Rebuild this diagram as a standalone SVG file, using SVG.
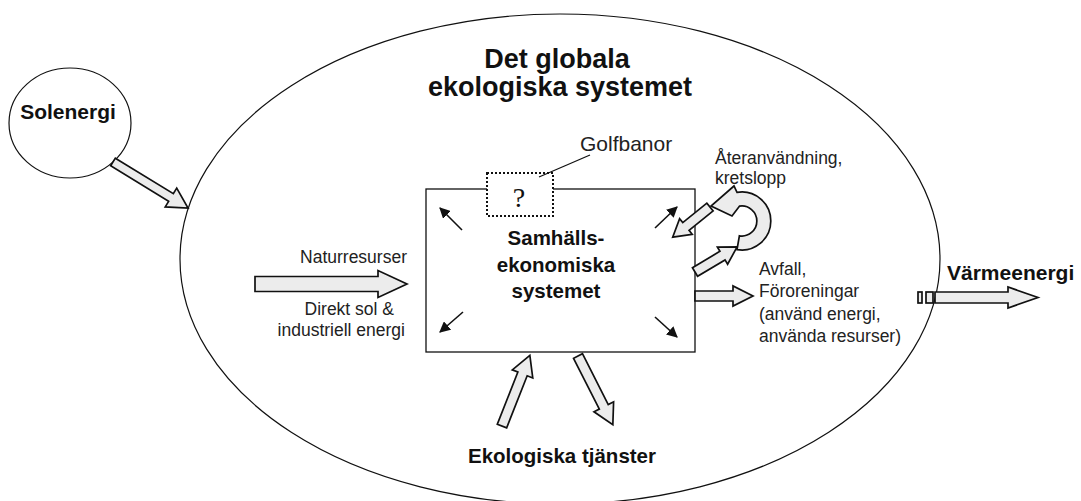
<svg xmlns="http://www.w3.org/2000/svg" width="1081" height="501" viewBox="0 0 1081 501">
<style>
.ol{fill:none;stroke:#111;stroke-width:1.2}
.blk{fill:#ececec;stroke:#111;stroke-width:1.7;stroke-linejoin:miter}
.b{font-family:"Liberation Sans",Arial,sans-serif;font-weight:bold;fill:#111}
.r{font-family:"Liberation Sans",Arial,sans-serif;fill:#222;font-size:17.5px}
.g{font-family:"Liberation Sans",Arial,sans-serif;fill:#222;font-size:21px}
.sm{stroke:#111;stroke-width:1.6;fill:none;marker-end:url(#ah)}
</style>
<defs>
<marker id="ah" viewBox="0 0 10 10" refX="9" refY="5" markerWidth="11" markerHeight="11" markerUnits="userSpaceOnUse" orient="auto">
<path d="M0,0 L10,5 L0,10 Z" fill="#111"/>
</marker>
</defs>
<rect width="1081" height="501" fill="#fff"/>
<g id="global-system">
<ellipse class="ol" cx="560" cy="259" rx="380" ry="245"/>
<text class="b" font-size="27" text-anchor="middle" x="557" y="68">Det globala</text>
<text class="b" font-size="27" text-anchor="middle" x="560" y="96">ekologiska systemet</text>
</g>
<g id="solenergi">
<ellipse class="ol" cx="70" cy="123" rx="61" ry="55" fill="#fff"/>
<text class="b" font-size="21" text-anchor="middle" x="68" y="119">Solenergi</text>
</g>
<g id="samhalls">
<rect x="426" y="189" width="269" height="163" fill="#fff" stroke="#111" stroke-width="1.3"/>
<text class="b" font-size="20.5" text-anchor="middle" x="556" y="245">Samhälls-</text>
<text class="b" font-size="20.5" text-anchor="middle" x="556" y="272">ekonomiska</text>
<text class="b" font-size="20.5" text-anchor="middle" x="556" y="298">systemet</text>
</g>
<g id="golfbanor">
<rect x="487" y="173" width="66" height="43" fill="#fff" stroke="#111" stroke-width="2" stroke-dasharray="2 2"/>
<text x="519" y="207" font-family="'Liberation Serif',serif" font-size="28" text-anchor="middle" fill="#111">?</text>
<line x1="539" y1="177" x2="590" y2="155" stroke="#111" stroke-width="1.3"/>
<text class="g" x="580" y="151">Golfbanor</text>
</g>
<g id="ekologiska-tjanster">
<text class="b" font-size="20.5" text-anchor="middle" x="562" y="463">Ekologiska tjänster</text>
</g>
<g id="varmeenergi">
<text class="b" font-size="21" x="947" y="280">Värmeenergi</text>
</g>
<g id="labels">
<text class="r" text-anchor="end" x="407" y="263">Naturresurser</text>
<text class="r" text-anchor="end" x="394" y="315">Direkt sol &amp;</text>
<text class="r" text-anchor="end" x="405" y="336">industriell energi</text>
<text class="r" x="715" y="164">Återanvändning,</text>
<text class="r" x="715" y="184">kretslopp</text>
<text class="r" x="759" y="275">Avfall,</text>
<text class="r" x="759" y="297">Föroreningar</text>
<text class="r" x="759" y="320">(använd energi,</text>
<text class="r" x="759" y="342">använda resurser)</text>
</g>
<g id="connectors">
<path class="blk" transform="translate(113,162) rotate(31.5)" d="M0,-4.5 H68 V-11 L88,0 L68,11 V4.5 H0 Z"/>
<path class="blk" transform="translate(255,284)" d="M0,-7.5 H123 V-13.5 L152,0 L123,13.5 V7.5 H0 Z"/>
<path class="blk" transform="translate(502,426) rotate(-68.5)" d="M0,-5 H56 V-11 L76,0 L56,11 V5 H0 Z"/>
<path class="blk" transform="translate(578,356) rotate(63.1)" d="M0,-5 H57 V-11 L77,0 L57,11 V5 H0 Z"/>
<path class="blk" transform="translate(710,207) rotate(141)" d="M0,-5 H31 V-10 L48,0 L31,10 V5 H0 Z"/>
<path class="blk" transform="translate(695,272) rotate(-30.8)" d="M0,-5 H32 V-10 L49,0 L32,10 V5 H0 Z"/>
<path class="blk" transform="translate(695,296)" d="M0,-5 H38 V-10 L58,0 L38,10 V5 H0 Z"/>
<path class="blk" d="M737,249.6 A29,29 0 1 0 737,192.4 L734,186 L711,206 L732,216 L739.4,206.2 A15,15 0 1 1 739.4,235.8 Z"/>
<rect class="blk" x="918" y="292" width="4" height="11"/>
<rect class="blk" x="926" y="292" width="7" height="11"/>
<path class="blk" transform="translate(935,297.5)" d="M0,-5.5 H73 V-10.5 L103,0 L73,10.5 V5.5 H0 Z"/>
<line class="sm" x1="462" y1="230" x2="440" y2="208"/>
<line class="sm" x1="655" y1="228" x2="677" y2="207"/>
<line class="sm" x1="463" y1="312" x2="440" y2="332"/>
<line class="sm" x1="655" y1="317" x2="677" y2="337"/>
</g>
</svg>
